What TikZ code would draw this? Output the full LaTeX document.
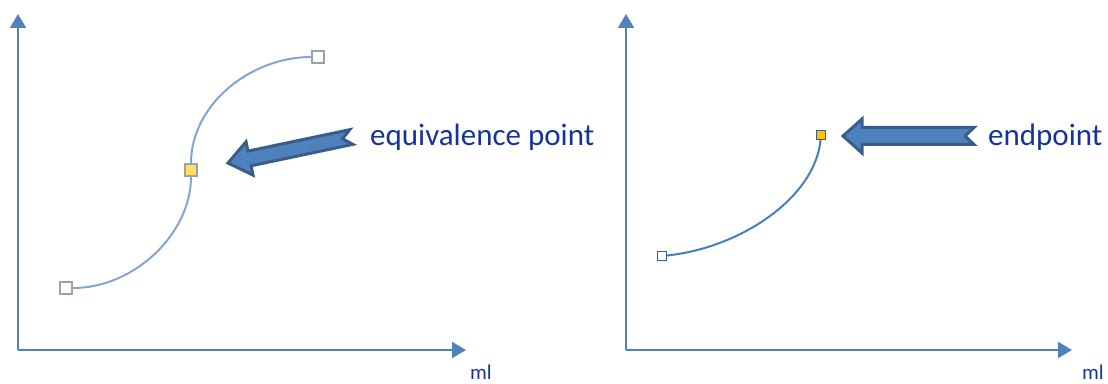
\documentclass[tikz,border=0pt]{standalone}
\usepackage{fontspec}
\setmainfont{Carlito}
\usetikzlibrary{positioning,arrows.meta}
\definecolor{axisblue}{RGB}{79,129,189}
\definecolor{curvelight}{RGB}{130,166,212}
\definecolor{curvedark}{RGB}{74,126,187}
\definecolor{arrowblue}{RGB}{79,129,189}
\definecolor{arrowdark}{RGB}{56,93,138}
\definecolor{labelblue}{RGB}{22,52,152}
\definecolor{ptgray}{RGB}{160,160,160}
\definecolor{ptyellow}{RGB}{255,224,100}
\definecolor{ptorange}{RGB}{255,192,0}

\begin{document}
\begin{tikzpicture}[x=1pt,y=1pt,
  axis/.style={draw=axisblue,line width=2pt,-{Triangle[length=14pt,width=16pt]}},
  pt/.style={draw=ptgray,line width=1.8pt,fill=white,minimum size=12pt,inner sep=0pt},
  smallpt/.style={pt,draw=arrowdark,line width=1pt,minimum size=9pt},
  barrow/.style={draw=arrowdark,fill=arrowblue,line width=3pt,line join=miter},
  lbl/.style={text=labelblue,font=\fontsize{31}{33}\selectfont,anchor=base west,inner sep=0pt},
  unit/.style={text=labelblue,font=\fontsize{21}{23}\selectfont,anchor=base west,inner sep=0pt}
]
\useasboundingbox (0,0) rectangle (1108,383);
% ---- titration curve ----
\coordinate (o1) at (18,33);
\coordinate (y1) at (18,369);
\coordinate (x1) at (466,33);
\draw[axis] (o1) -- (y1);
\draw[axis] (o1) -- (x1);
\node[unit] (ml1) at (470,4) {ml};
\node[pt] (s1) at (66,95) {};
\node[pt,fill=ptyellow] (m1) at (191,213) {};
\node[pt] (e1) at (318,326) {};
\draw[curvelight,line width=2pt] (s1) .. controls (135,95) and (191,150) .. (m1);
\draw[curvelight,line width=2pt] (m1) .. controls (191,278) and (250,326) .. (e1);
\node[lbl] (eq) at (370,237) {equivalence point};
\coordinate (tip1) at (228,220);
\begin{scope}[shift={(tip1)},rotate=191.9]
\draw[barrow] (0,0) -- (-22,17) -- (-22,7.5) -- (-126,7.5) -- (-117,0)
  -- (-126,-7.5) -- (-22,-7.5) -- (-22,-17) -- cycle;
\end{scope}
% ---- indicator curve ----
\coordinate (o2) at (626,33);
\coordinate (y2) at (626,369);
\coordinate (x2) at (1072,33);
\draw[axis] (o2) -- (y2);
\draw[axis] (o2) -- (x2);
\node[unit] (ml2) at (1082,4) {ml};
\node[smallpt] (s2) at (662,127) {};
\node[smallpt,fill=ptorange] (e2) at (821,248) {};
\draw[curvedark,line width=2pt] (s2) .. controls (740,135) and (815,185) .. (e2);
\node[lbl] (ep) at (988,237) {endpoint};
\coordinate (tip2) at (843,247);
\begin{scope}[shift={(tip2)},rotate=180]
\draw[barrow] (0,0) -- (-19,17) -- (-19,8.5) -- (-131,8.5) -- (-122,0)
  -- (-131,-8.5) -- (-19,-8.5) -- (-19,-17) -- cycle;
\end{scope}
\end{tikzpicture}
\end{document}
